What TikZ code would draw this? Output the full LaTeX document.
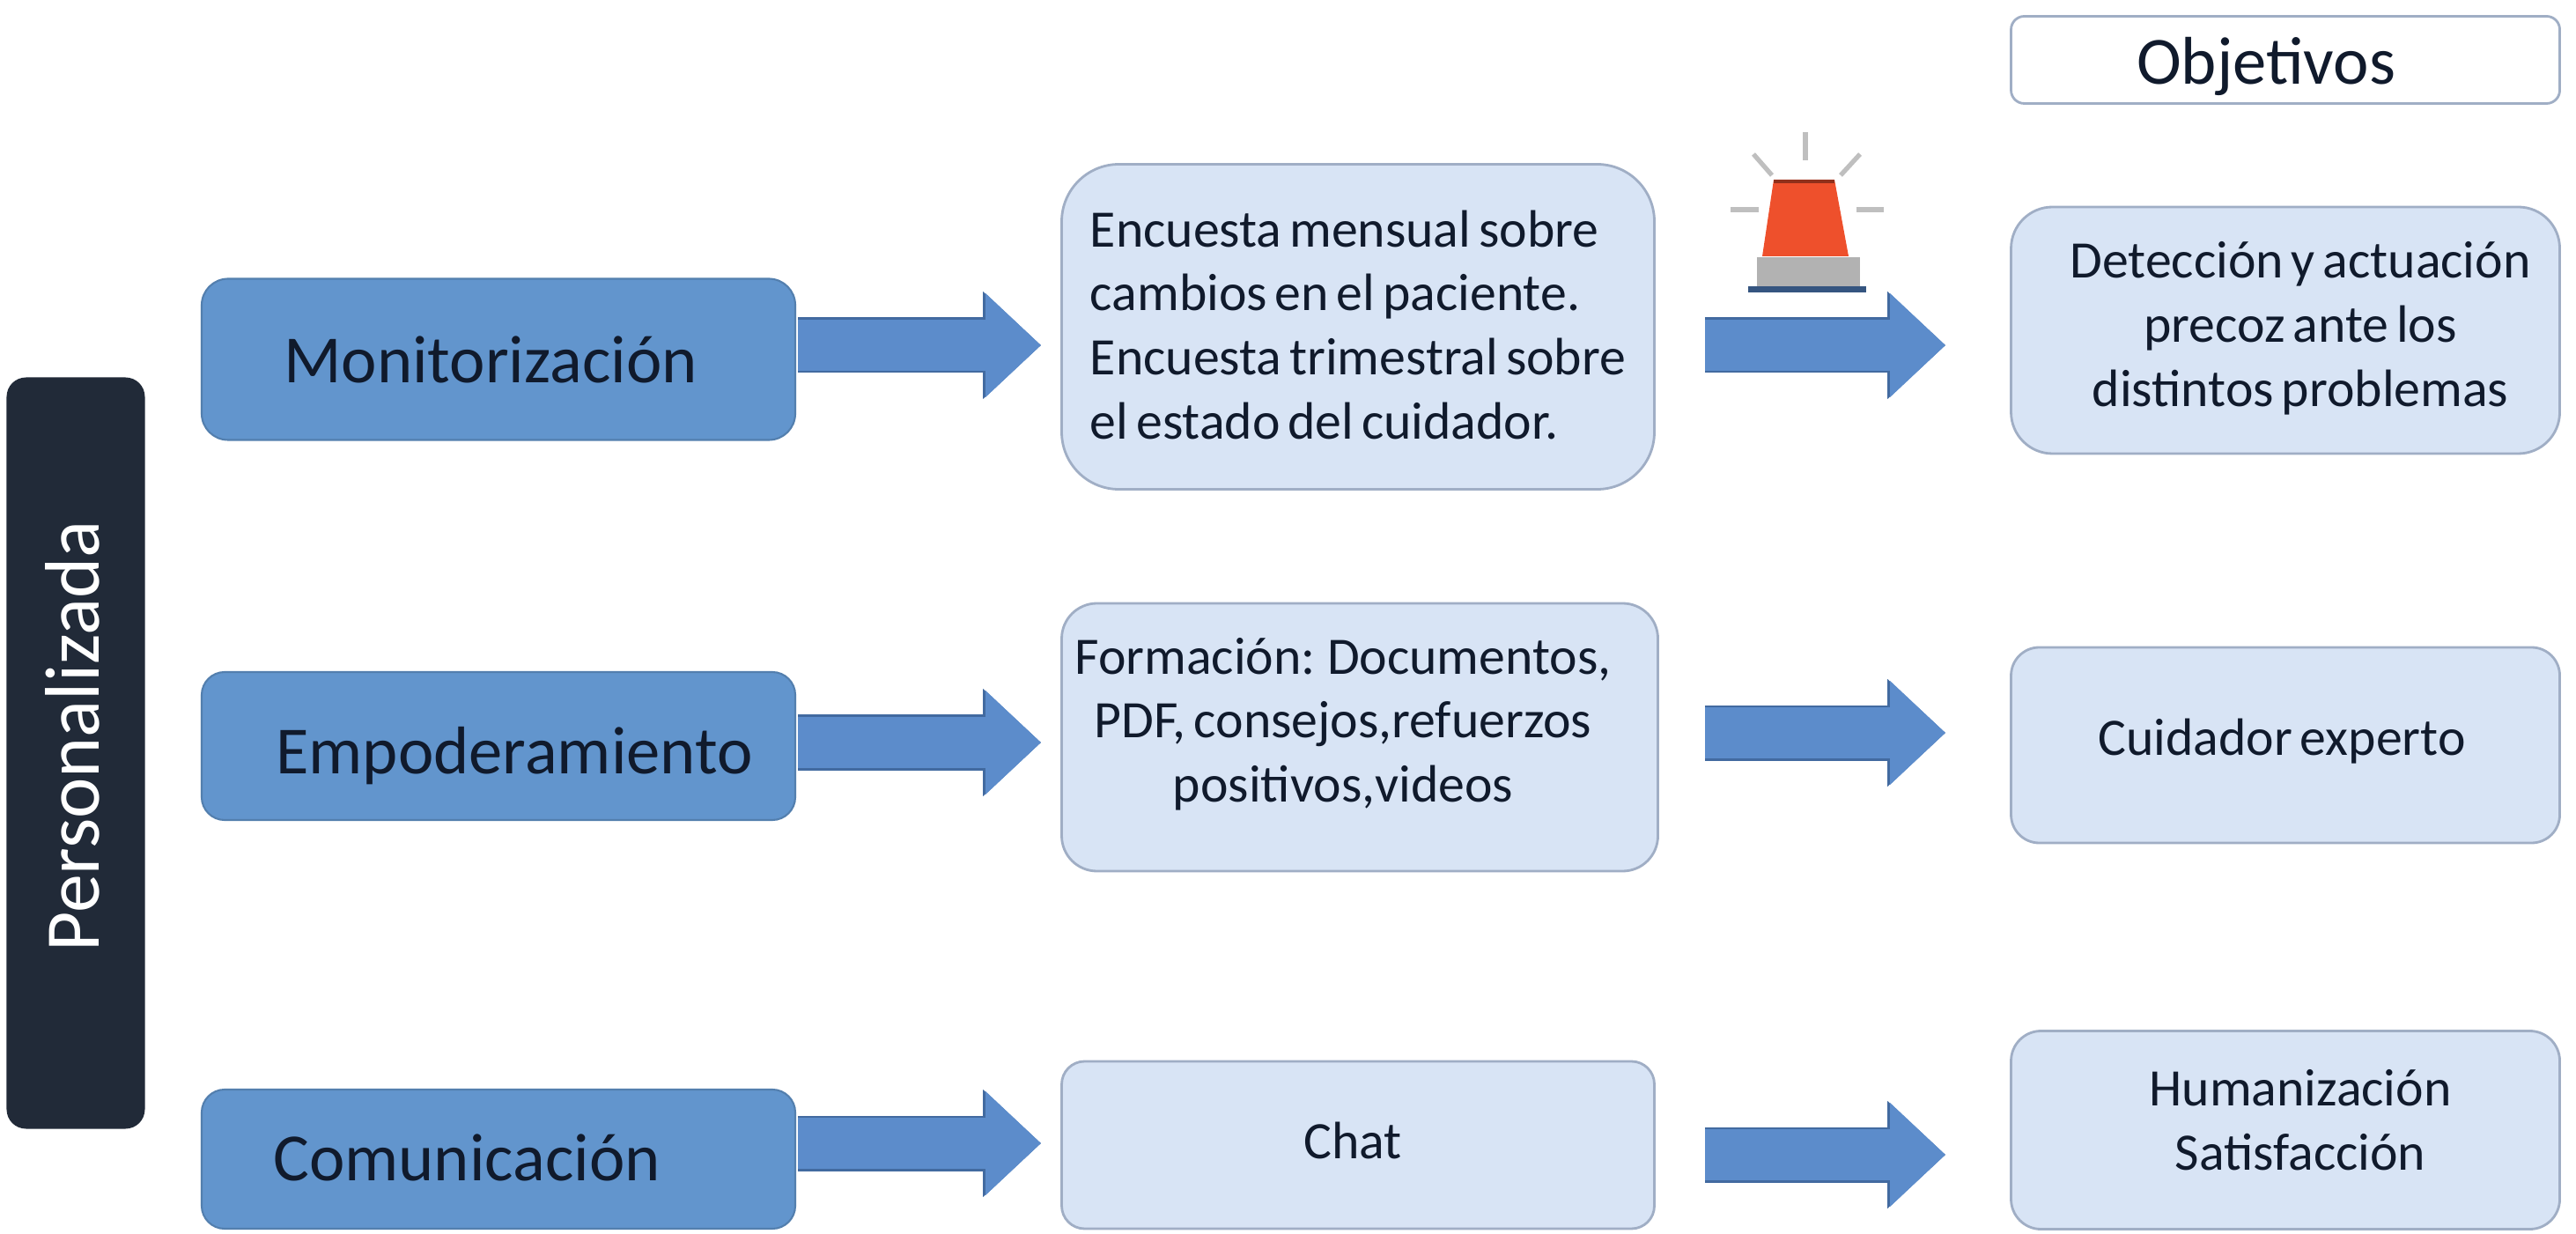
\documentclass[tikz,border=0pt]{standalone}
\usepackage{fontspec}
\setmainfont{Carlito}
\usetikzlibrary{arrows.meta,calc}
\definecolor{figD}{RGB}{33,42,56}
\definecolor{figM}{RGB}{98,149,205}
\definecolor{figL}{RGB}{216,228,245}
\definecolor{figE}{RGB}{160,174,197}
\definecolor{figA}{RGB}{92,140,203}
\definecolor{figO}{RGB}{66,106,160}
\definecolor{figS}{RGB}{238,80,44}
\definecolor{figT}{RGB}{16,26,44}
% text moved inside its box, the box itself keeps its size
\newcommand{\movedtxt}[3]{\raisebox{\dimexpr#2-.25em\relax}[0pt][0pt]{\makebox[0pt]{\hspace*{\dimexpr2\dimexpr#1\relax\relax}\begin{tabular}{@{}c@{}}#3\end{tabular}}}}
\newcommand{\stepfont}{\fontsize{17}{20.7}\selectfont\setlength{\spaceskip}{.15em}}
\tikzset{
  headbox/.style={fill=figM,draw=figM!85!black,line width=0.6pt,font=\fontsize{21.8}{26}\selectfont,text=figT,inner sep=0pt},
  stepbox/.style={fill=figL,draw=figE,line width=0.8pt,font=\stepfont,text=figT,inner sep=0pt},
  blockarrow/.style={line width=5.8mm,figA,-{Triangle[length=6.3mm,width=11.4mm]},
    preaction={draw=figO,line width=6.3mm,-{Triangle[length=6.6mm,width=11.8mm]}}},
}
\begin{document}
\begin{tikzpicture}[x=1cm,y=-1cm]
\useasboundingbox (0,0) rectangle (29.25,14.01);
% ---------- side bar ----------
\node (pers) [fill=figD,text=white,rounded corners=2.2mm,minimum width=1.57cm,minimum height=8.53cm,inner sep=0pt,font=\fontsize{25}{29}\selectfont] at (0.86,8.55) {\movedtxt{-0.4mm}{0.4mm}{\rotatebox{90}{Personalizada}}};
% ---------- left column ----------
\node (mon) [headbox,rounded corners=3mm,minimum width=6.74cm,minimum height=1.83cm] at (5.66,4.08) {\movedtxt{-0.9mm}{-0.7mm}{Monitorización}};
\node (emp) [headbox,rounded corners=2.6mm,minimum width=6.74cm,minimum height=1.68cm] at (5.66,8.47) {\movedtxt{1.8mm}{-1.2mm}{Empoderamiento}};
\node (com) [headbox,rounded corners=2.6mm,minimum width=6.74cm,minimum height=1.58cm] at (5.66,13.16) {\movedtxt{-3.6mm}{-0.5mm}{Comunicación}};
% ---------- middle column ----------
\node (mid1) [stepbox,rounded corners=6.5mm,minimum width=6.73cm,minimum height=3.69cm] at (15.42,3.71) {\movedtxt{0mm}{-0.4mm}{\begin{tabular}{@{}l@{}}Encuesta mensual sobre\\cambios en el paciente.\\Encuesta trimestral sobre\\el estado del cuidador.\end{tabular}}};
\node (mid2) [stepbox,rounded corners=4mm,minimum width=6.77cm,minimum height=3.04cm] at (15.44,8.37) {\movedtxt{-1.9mm}{1.35mm}{Formación: Documentos,\\PDF, consejos,refuerzos\\positivos,videos}};
\node (chat) [stepbox,rounded corners=2.6mm,minimum width=6.73cm,minimum height=1.9cm] at (15.42,13.00) {\movedtxt{-0.6mm}{-0.15mm}{Chat}};
% ---------- objetivos ----------
\node (obj) [draw=figE,fill=white,text=figT,line width=0.8pt,rounded corners=1.5mm,minimum width=6.23cm,minimum height=0.99cm,inner sep=0pt,font=\fontsize{21.8}{26}\selectfont] at (25.95,0.68) {\movedtxt{-2.2mm}{-0.8mm}{Objetivos}};
\node (res1) [stepbox,rounded corners=4.7mm,minimum width=6.23cm,minimum height=2.8cm] at (25.95,3.75) {\movedtxt{1.7mm}{0.1mm}{Detección y actuación\\precoz ante los\\distintos problemas}};
\node (res2) [stepbox,rounded corners=3.2mm,minimum width=6.23cm,minimum height=2.22cm] at (25.95,8.46) {\movedtxt{-0.4mm}{0.3mm}{Cuidador experto}};
\node (res3) [stepbox,rounded corners=3.4mm,minimum width=6.23cm,minimum height=2.25cm] at (25.95,12.83) {\movedtxt{1.7mm}{0.5mm}{Humanización\\Satisfacción}};
% ---------- arrows ----------
\coordinate (lev1) at (0,3.92);
\coordinate (lev2) at (0,8.43);
\coordinate (lev3) at (0,12.98);
\coordinate (gol2) at (0,8.32);
\coordinate (gol3) at (0,13.11);
\draw[blockarrow,shorten >=2.2mm,shorten <=0.2mm] (mon.east |- lev1) -- (mid1.west |- lev1);
\draw[blockarrow,shorten >=2.2mm,shorten <=0.2mm] (emp.east |- lev2) -- (mid2.west |- lev2);
\draw[blockarrow,shorten >=2.2mm,shorten <=0.2mm] (com.east |- lev3) -- (chat.west |- lev3);
\draw[blockarrow,shorten >=7.3mm,shorten <=5.6mm] (mid1.east |- lev1) -- (res1.west |- lev1);
\draw[blockarrow,shorten >=7.3mm,shorten <=5.2mm] (mid2.east |- gol2) -- (res2.west |- gol2);
\draw[blockarrow,shorten >=7.3mm,shorten <=5.6mm] (chat.east |- gol3) -- (res3.west |- gol3);
% ---------- siren ----------
\fill[figS] (20.14,2.04)--(20.83,2.04)--(20.99,2.91)--(20.01,2.91)--cycle;
\fill[figS!60!black] (20.14,2.04) rectangle (20.83,2.08);
\fill[black!30] (19.95,2.92) rectangle (21.12,3.25);
\fill[figO!80!black] (19.85,3.25) rectangle (21.19,3.32);
\foreach \a/\b/\c/\d in {20.50/1.50/20.50/1.82, 19.91/1.75/20.12/1.99, 21.12/1.75/20.90/1.99, 19.65/2.38/19.97/2.38, 21.08/2.38/21.39/2.38}
  \draw[black!25,line width=1.5pt] (\a,\b)--(\c,\d);
\end{tikzpicture}
\end{document}
